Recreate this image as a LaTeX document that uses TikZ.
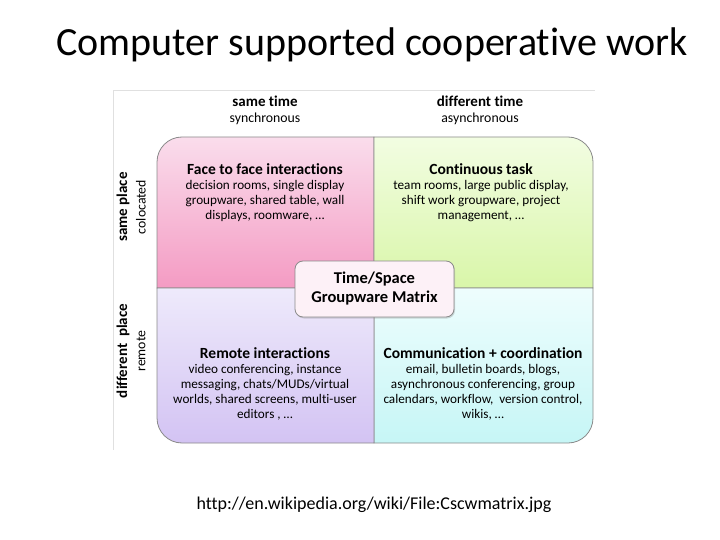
\documentclass[tikz,border=0pt]{standalone}
\usepackage{fontspec}
\setmainfont{Carlito}[Ligatures=CommonOff]
\usetikzlibrary{shadows}
\definecolor{pinkT}{HTML}{FADDEC}
\definecolor{pinkB}{HTML}{F49BC3}
\definecolor{greenT}{HTML}{F2FDE2}
\definecolor{greenB}{HTML}{D9F6A9}
\definecolor{purpT}{HTML}{EEEAFB}
\definecolor{purpB}{HTML}{D3C3F3}
\definecolor{cyanT}{HTML}{EEFDFD}
\definecolor{cyanB}{HTML}{C6F6F6}
\definecolor{edge}{HTML}{8A8A8A}
\begin{document}
\begin{tikzpicture}[x=1pt,y=-1pt,
  quad/.style={draw=edge, line width=0.8pt},
  head/.style={font=\fontsize{15}{17}\selectfont\bfseries, inner sep=0pt},
  sub/.style={font=\fontsize{13.8}{16}\selectfont, inner sep=0pt},
  body/.style={align=center, font=\fontsize{13.2}{15.2}\selectfont, inner sep=0pt}]
\useasboundingbox (0,0) rectangle (720,540);
% faint frame of the picture
\draw[black!12, line width=0.6pt] (113,450) -- (113,90) -- (595,90);
% quadrants
\path[quad, top color=pinkT, bottom color=pinkB]
  (157,288) -- (157,162) .. controls (157,148.2) and (168.2,137) .. (182,137) -- (374,137) -- (374,288) -- cycle;
\path[quad, top color=greenT, bottom color=greenB]
  (374,137) -- (568,137) .. controls (581.8,137) and (593,148.2) .. (593,162) -- (593,288) -- (374,288) -- cycle;
\path[quad, top color=cyanT, bottom color=cyanB]
  (374,288) -- (593,288) -- (593,418) .. controls (593,431.8) and (581.8,443) .. (568,443) -- (374,443) -- cycle;
\path[quad, top color=purpT, bottom color=purpB]
  (374,288) -- (374,443) -- (182,443) .. controls (168.2,443) and (157,431.8) .. (157,418) -- (157,288) -- cycle;
% centre box
\node[draw=edge, line width=0.8pt, rounded corners=8pt, fill=pinkT!40, minimum width=159pt, minimum height=56pt,
  align=center, font=\fontsize{16.5}{19}\selectfont\bfseries,
  drop shadow={shadow xshift=1pt, shadow yshift=-1.5pt, opacity=0.3}] (centre) at (374.5,289) {Time/Space\\Groupware Matrix};
% column headings
\node[head] (st) at (265,101) {same time};
\node[sub] (sy) at (265,119) {synchronous};
\node[head] (dt) at (480,101) {different time};
\node[sub] (as) at (480,119) {asynchronous};
% row headings
\node[head, rotate=90] (sp) at (123,207) {same place};
\node[sub, rotate=90] (co) at (141,207) {colocated};
\node[head, rotate=90] (dp) at (123,351) {different\ \ place};
\node[sub, rotate=90] (re) at (141,351) {remote};
% quadrant texts
\node[body, anchor=north] (ff) at (265,163) {{\fontsize{15.5}{16}\selectfont\bfseries Face to face interactions}\\decision rooms, single display\\groupware, shared table, wall\\displays, roomware, …};
\node[body, anchor=north] (ct) at (481,163) {{\fontsize{15.5}{16}\selectfont\bfseries Continuous task}\\team rooms, large public display,\\shift work groupware, project\\management, …};
\node[body, anchor=north] (ri) at (265,347) {{\fontsize{15.5}{16}\selectfont\bfseries Remote interactions}\\video conferencing, instance\\messaging, chats/MUDs/virtual\\worlds, shared screens, multi-user\\editors , …};
\node[body, anchor=north] (cc) at (483,347) {{\fontsize{15.5}{16}\selectfont\bfseries Communication + coordination}\\email, bulletin boards, blogs,\\asynchronous conferencing, group\\calendars, workflow,\ \ version control,\\wikis, …};
% title and source
\node[font=\fontsize{40}{44}\selectfont, inner sep=0pt] (title) at (372,45) {Computer supported cooperative work};
\node[font=\fontsize{18}{21}\selectfont, inner sep=0pt] (src) at (374,505) {http://en.wikipedia.org/wiki/File:Cscwmatrix.jpg};
\end{tikzpicture}
\end{document}
